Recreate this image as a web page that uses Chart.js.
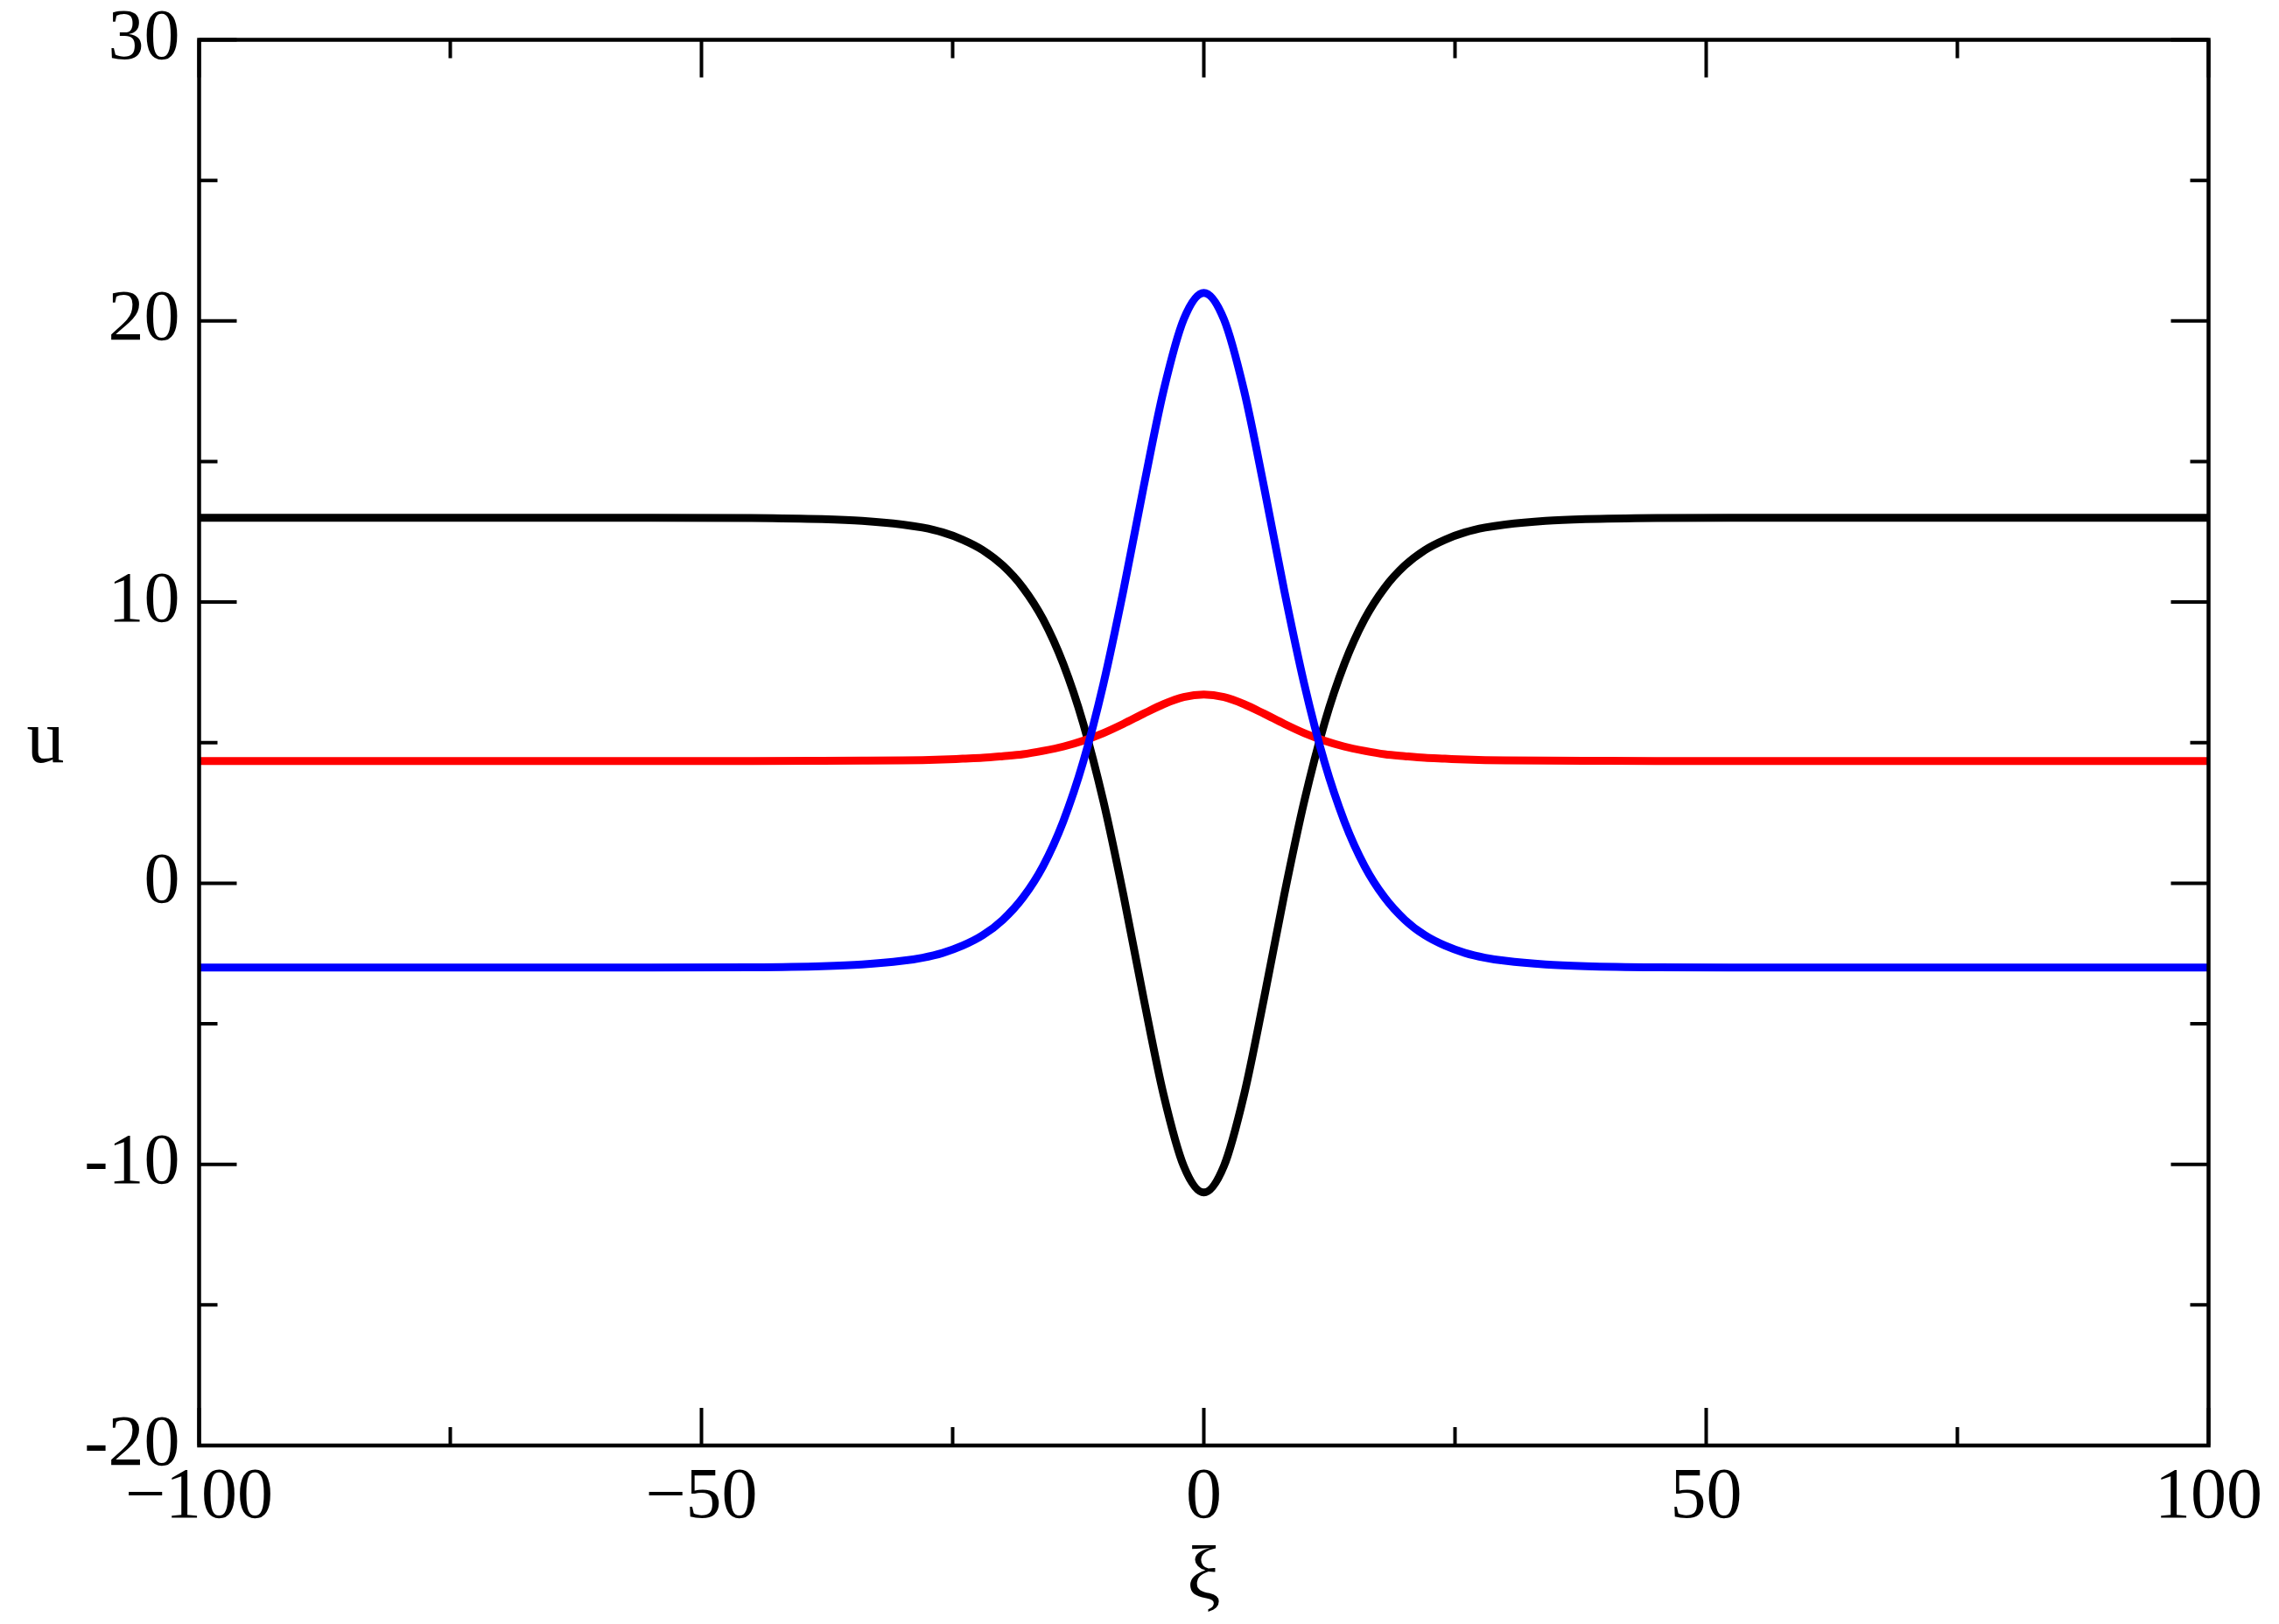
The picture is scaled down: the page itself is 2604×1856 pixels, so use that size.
<!DOCTYPE html>
<html>
<head>
<meta charset="utf-8">
<script src="https://cdn.jsdelivr.net/npm/chart.js@4/dist/chart.umd.min.js"></script>
<style>
html,body{margin:0;padding:0;background:#fff;}
#wrap{width:2604px;height:1856px;position:relative;}
canvas{display:block;}
</style>
</head>
<body>
<div id="wrap"><canvas id="c" width="2604" height="1856"></canvas></div>
<script>
// ---- data ----
const xi = [-100,-85,-70,-55,-45,-38,-34,-30,-28,-26,-24,-22,-20,-18,-16,-14,-12,-10,-8,-6,-4,-2,0,
            2,4,6,8,10,12,14,16,18,20,22,24,26,28,30,34,38,45,55,70,85,100];
const uBlack = [13.0,13.0,13.0,13.0,12.99,12.95,12.89,12.76,12.65,12.48,12.22,11.85,11.30,10.51,9.39,7.81,5.68,2.92,-0.42,-4.08,-7.53,-10.06,-11.0,
                -10.06,-7.53,-4.08,-0.42,2.92,5.68,7.81,9.39,10.51,11.30,11.85,12.22,12.48,12.65,12.76,12.89,12.95,12.99,13.0,13.0,13.0,13.0];
const uRed = [4.35,4.35,4.35,4.35,4.35,4.355,4.36,4.37,4.38,4.40,4.43,4.46,4.52,4.59,4.71,4.86,5.07,5.34,5.67,6.03,6.37,6.62,6.71,
              6.62,6.37,6.03,5.67,5.34,5.07,4.86,4.71,4.59,4.52,4.46,4.43,4.40,4.38,4.37,4.36,4.355,4.35,4.35,4.35,4.35,4.35];
const uBlue = [-3.0,-3.0,-3.0,-3.0,-2.99,-2.95,-2.89,-2.76,-2.65,-2.48,-2.22,-1.85,-1.30,-0.51,0.61,2.19,4.32,7.08,10.42,14.08,17.53,20.06,21.0,
               20.06,17.53,14.08,10.42,7.08,4.32,2.19,0.61,-0.51,-1.30,-1.85,-2.22,-2.48,-2.65,-2.76,-2.89,-2.95,-2.99,-3.0,-3.0,-3.0,-3.0];
const xMajorTicks = [-100,-50,0,50,100];
const xMinorTicks = [-75,-25,25,75];
const yMajorTicks = [-20,-10,0,10,20,30];
const yMinorTicks = [-15,-5,5,15,25];
const xLabel = 'ξ';
const yLabel = 'u';

const FONT = '"Liberation Serif", "Times New Roman", serif';
const pts = arr => xi.map((x,i)=>({x:x, y:arr[i]}));

const frameTicks = {
  id:'frameTicks',
  afterDatasetsDraw(chart){
    const {ctx, chartArea:a, scales} = chart;
    const xs = scales.x, ys = scales.y;
    ctx.save();
    ctx.strokeStyle = '#000';
    ctx.lineCap = 'butt';
    ctx.lineWidth = 4;
    const MAJ = 43, MIN = 21;
    const xt = (v,len)=>{
      const p = xs.getPixelForValue(v);
      ctx.beginPath();
      ctx.moveTo(p,a.bottom); ctx.lineTo(p,a.bottom-len);
      ctx.moveTo(p,a.top); ctx.lineTo(p,a.top+len);
      ctx.stroke();
    };
    const yt = (v,len)=>{
      const p = ys.getPixelForValue(v);
      ctx.beginPath();
      ctx.moveTo(a.left,p); ctx.lineTo(a.left+len,p);
      ctx.moveTo(a.right,p); ctx.lineTo(a.right-len,p);
      ctx.stroke();
    };
    xMajorTicks.forEach(v=>xt(v,MAJ));
    xMinorTicks.forEach(v=>xt(v,MIN));
    yMajorTicks.forEach(v=>yt(v,MAJ));
    yMinorTicks.forEach(v=>yt(v,MIN));
    ctx.lineWidth = 4.5;
    ctx.strokeRect(a.left, a.top, a.right-a.left, a.bottom-a.top);
    // axis titles
    ctx.fillStyle = '#000';
    ctx.textAlign = 'center';
    ctx.textBaseline = 'middle';
    ctx.font = '86px ' + FONT;
    ctx.fillText(yLabel, 52, (a.top+a.bottom)/2);
    ctx.fillText(xLabel, (a.left+a.right)/2, 1804);
    ctx.restore();
  }
};

new Chart(document.getElementById('c'), {
  type:'line',
  data:{
    datasets:[
      {label:'blue', data:pts(uBlue), borderColor:'#0000ff', borderWidth:9, pointRadius:0, cubicInterpolationMode:'monotone', order:0},
      {label:'red', data:pts(uRed), borderColor:'#ff0000', borderWidth:9, pointRadius:0, cubicInterpolationMode:'monotone', order:1},
      {label:'black', data:pts(uBlack), borderColor:'#000000', borderWidth:9, pointRadius:0, cubicInterpolationMode:'monotone', order:2}
    ]
  },
  options:{
    responsive:false,
    animation:false,
    devicePixelRatio:1,
    layout:{padding:{left:0, top:45.5, right:80.5, bottom:0}},
    plugins:{legend:{display:false}, tooltip:{enabled:false}},
    scales:{
      x:{
        type:'linear', min:-100, max:100,
        afterBuildTicks(s){ s.ticks = xMajorTicks.map(v=>({value:v})); },
        afterFit(s){ s.height = 204; s.paddingLeft = 0; s.paddingRight = 0; },
        grid:{display:false, drawTicks:false},
        border:{display:false},
        ticks:{
          color:'#000', padding:11, maxRotation:0, autoSkip:false,
          font:{family:FONT, size:82},
          callback:v=>String(v).replace('-', '\u2212')
        }
      },
      y:{
        type:'linear', min:-20, max:30,
        afterBuildTicks(s){ s.ticks = yMajorTicks.map(v=>({value:v})); },
        afterFit(s){ s.width = 227.5; s.paddingTop = 0; s.paddingBottom = 0; },
        grid:{display:false, drawTicks:false},
        border:{display:false},
        ticks:{
          color:'#000', padding:22, autoSkip:false,
          font:{family:FONT, size:82},
          callback:v=>String(v)
        }
      }
    }
  },
  plugins:[frameTicks]
});
</script>
</body>
</html>
